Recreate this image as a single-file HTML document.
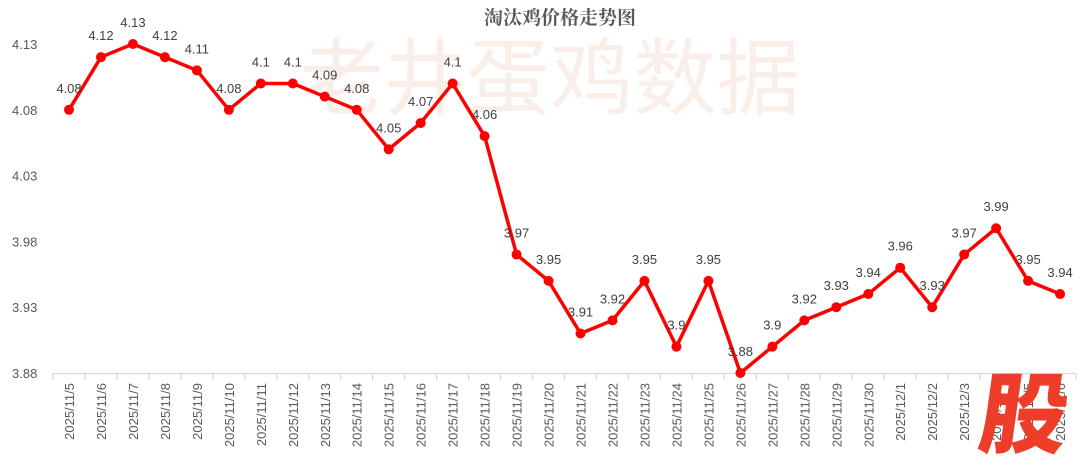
<!DOCTYPE html>
<html><head><meta charset="utf-8"><style>
html,body{margin:0;padding:0;background:#fff;}
svg{display:block;font-family:"Liberation Sans","Noto Sans CJK SC",sans-serif;}
</style></head><body>
<svg id="c" width="1080" height="470" viewBox="0 0 1080 470" xmlns="http://www.w3.org/2000/svg">
<text x="300" y="108" font-size="84" fill="#faefe8" font-family="'Noto Sans CJK SC',sans-serif" textLength="500" lengthAdjust="spacingAndGlyphs">老井蛋鸡数据</text>
<text x="560" y="24" text-anchor="middle" font-size="19" font-weight="bold" fill="#595959" font-family="'Noto Serif CJK SC','Noto Sans CJK SC',serif">淘汰鸡价格走势图</text>
<g id="g"></g>
<text transform="translate(1020,446) skewX(-8)" text-anchor="middle" font-size="88" font-weight="900" fill="#ee3e2a" font-family="'Noto Sans CJK SC',sans-serif">股</text>
</svg>
<script>
var v=[4.08,4.12,4.13,4.12,4.11,4.08,4.1,4.1,4.09,4.08,4.05,4.07,4.1,4.06,3.97,3.95,3.91,3.92,3.95,3.9,3.95,3.88,3.9,3.92,3.93,3.94,3.96,3.93,3.97,3.99,3.95,3.94];
var d=[];for(var i=5;i<=30;i++)d.push("2025/11/"+i);for(i=1;i<=6;i++)d.push("2025/12/"+i);
function X(i){return 69+i*31.97;}function Y(a){return 373-(a-3.88)/0.25*329;}
var s="";
[4.13,4.08,4.03,3.98,3.93,3.88].forEach(function(t){s+='<text x="12" y="'+(Y(t)+5)+'" font-size="13" fill="#595959">'+t.toFixed(2)+'</text>';});
s+='<line x1="53" y1="373.5" x2="1076" y2="373.5" stroke="#d9d9d9" stroke-width="1.3"/>';
for(i=0;i<=32;i++){var tx=53+i*31.97;s+='<line x1="'+tx+'" y1="373" x2="'+tx+'" y2="380" stroke="#d9d9d9" stroke-width="1.3"/>';}
for(i=0;i<32;i++){s+='<text transform="translate('+(X(i)+5)+',383) rotate(-90)" text-anchor="end" font-size="13" fill="#595959">'+d[i]+'</text>';}
var p="";for(i=0;i<32;i++)p+=(i?"L":"M")+X(i)+","+Y(v[i]);
s+='<path d="'+p+'" fill="none" stroke="#ff0000" stroke-width="3.5" stroke-linejoin="round"/>';
for(i=0;i<32;i++){s+='<circle cx="'+X(i)+'" cy="'+Y(v[i])+'" r="5" fill="#ff0000"/>';
s+='<text x="'+X(i)+'" y="'+(Y(v[i])-17)+'" text-anchor="middle" font-size="13" fill="#404040">'+v[i]+'</text>';}
document.getElementById("g").innerHTML=s;
</script>
</body></html>
